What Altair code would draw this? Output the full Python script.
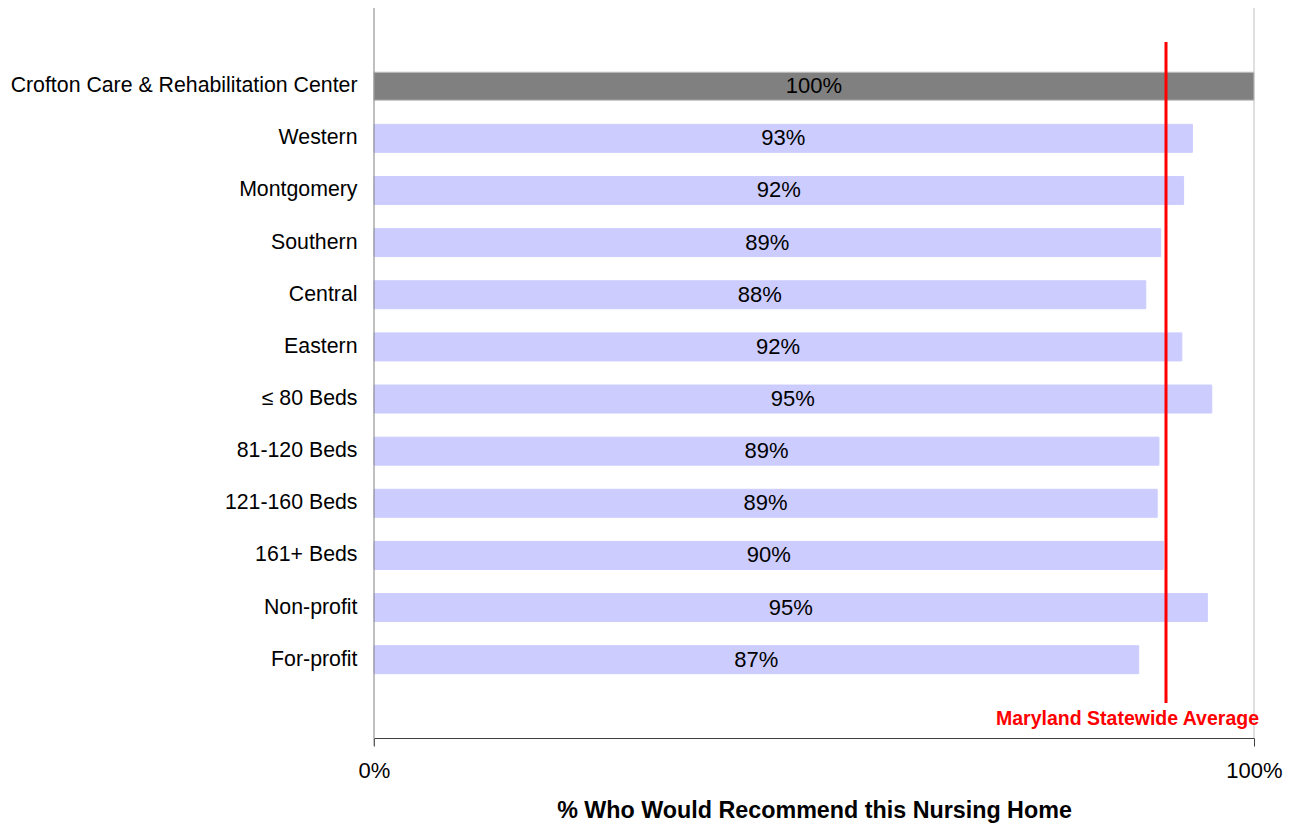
import altair as alt
import pandas as pd

categories = [
    "Crofton Care & Rehabilitation Center",
    "Western",
    "Montgomery\u00a0",
    "Southern",
    "Central",
    "Eastern",
    "≤ 80 Beds",
    "81-120 Beds",
    "121-160 Beds",
    "161+ Beds",
    "Non-profit",
    "For-profit",
]
values = [1.00, 0.93, 0.92, 0.894, 0.877, 0.918, 0.952, 0.892, 0.890, 0.897, 0.947, 0.869]
kinds = ["facility"] + ["comparison"] * 11

statewide_avg = [0.90]
statewide_label = ["Maryland Statewide Average"]

df = pd.DataFrame({"category": categories, "value": values, "kind": kinds})
avg_df = pd.DataFrame({"avg": statewide_avg, "label": statewide_label, "pos": [1.0]})

FONT = "Liberation Sans"

xscale = alt.Scale(domain=[0, 1], nice=False, zero=True)
yscale = alt.Scale(paddingInner=0.463, paddingOuter=0, range=[64.2, 665.7])

bars = alt.Chart(df).mark_bar().encode(
    x=alt.X(
        "value:Q",
        scale=xscale,
        axis=alt.Axis(
            values=[0, 1],
            format=".0%",
            title="% Who Would Recommend this Nursing Home",
            titleFont=FONT,
            titleFontSize=23.3,
            titleFontWeight="bold",
            titleColor="black",
            titlePadding=18,
            labelFont=FONT,
            labelFontSize=22,
            labelColor="black",
            labelPadding=14,
            tickSize=8,
            tickColor="#404040",
            domainColor="#404040",
            grid=False,
            labelFlush=False,
        ),
    ),
    y=alt.Y(
        "category:N",
        sort=categories,
        scale=yscale,
        axis=alt.Axis(
            title=None,
            labelFont=FONT,
            labelFontSize=21.3,
            labelColor="black",
            labelPadding=17,
            ticks=False,
            domain=False,
            labelLimit=0,
        ),
    ),
    color=alt.Color(
        "kind:N",
        scale=alt.Scale(domain=["facility", "comparison"], range=["#808080", "#CCCCFF"]),
        legend=None,
    ),
    stroke=alt.Stroke(
        "kind:N",
        scale=alt.Scale(domain=["facility", "comparison"], range=["#c0c0c0", "#CCCCFF"]),
        legend=None,
    ),
)

labels = alt.Chart(df).transform_calculate(mid="datum.value / 2").mark_text(
    font=FONT, fontSize=22, color="black", baseline="middle", align="center"
).encode(
    x=alt.X("mid:Q", scale=xscale),
    y=alt.Y("category:N", sort=categories, scale=yscale),
    text=alt.Text("value:Q", format=".0%"),
)

# left axis line spanning the full plot height
left_line = alt.Chart(avg_df).mark_rule(color="#808080", strokeWidth=1).encode(
    x=alt.value(0),
    y=alt.value(0),
    y2=alt.value(738),
)

# light gray line at 100%
right_line = alt.Chart(avg_df).mark_rule(color="#c0c0c0", strokeWidth=1).encode(
    x=alt.X("pos:Q", scale=xscale),
    y=alt.value(0),
    y2=alt.value(730),
)

avg_rule = alt.Chart(avg_df).mark_rule(color="#FF0000", strokeWidth=3).encode(
    x=alt.X("avg:Q", scale=xscale),
    y=alt.value(34),
    y2=alt.value(695),
)

avg_text = alt.Chart(avg_df).mark_text(
    font=FONT, fontSize=19.5, fontWeight="bold", color="#FF0000",
    align="right", baseline="middle", dx=5,
).encode(
    x=alt.X("pos:Q", scale=xscale),
    y=alt.value(711),
    text="label:N",
)

chart = alt.layer(right_line, bars, labels, left_line, avg_rule, avg_text).properties(
    width=880,
    height=730,
    autosize=alt.AutoSizeParams(type="none"),
    padding={"left": 366, "top": 0, "right": 30, "bottom": 95},
).configure_view(stroke=None)

chart.save("out.html", embed_options={"renderer": "svg", "actions": False})
